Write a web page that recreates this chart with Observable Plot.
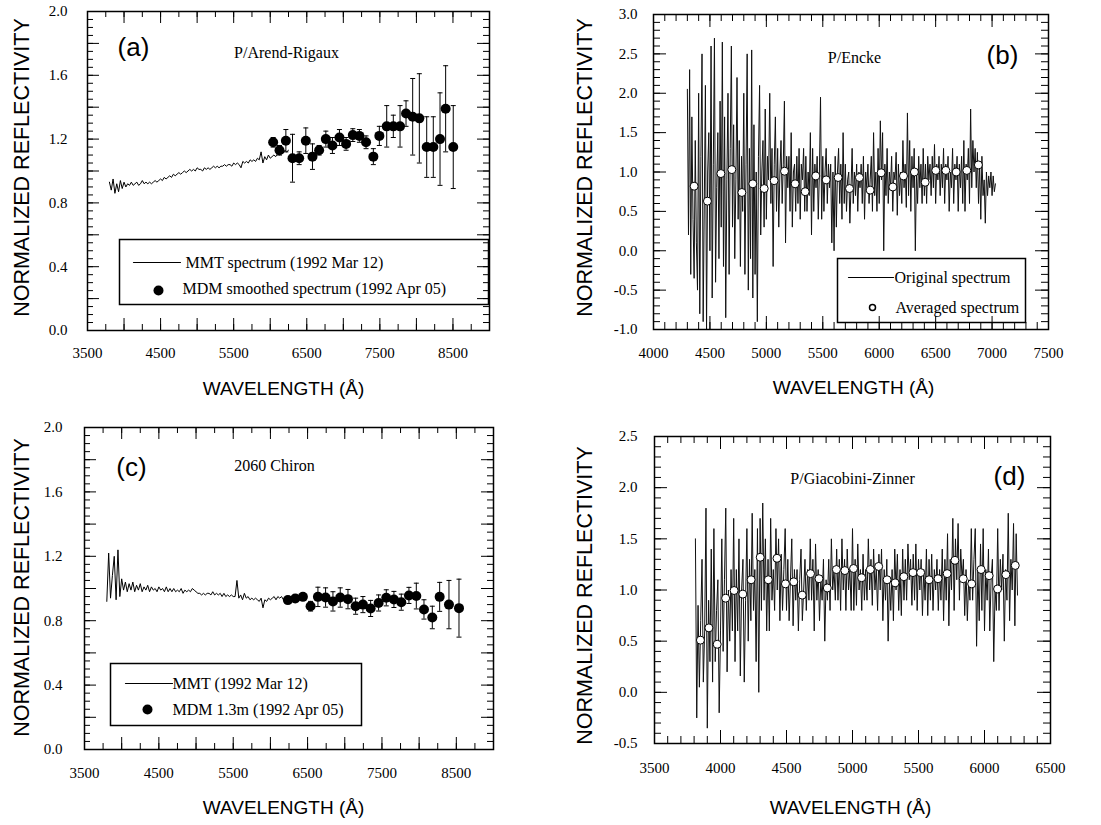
<!DOCTYPE html>
<html><head><meta charset="utf-8">
<script src="https://cdn.jsdelivr.net/npm/d3@7"></script>
<script src="https://cdn.jsdelivr.net/npm/@observablehq/plot@0.6"></script>
<style>
body{margin:0;background:#fff;}
#root{position:relative;width:1101px;height:825px;overflow:hidden;background:#fff;}
.panel{position:absolute;}
.panel svg{max-width:none !important;}
</style></head><body><div id="root"></div>
<script>
const SERIF = '"Liberation Serif","Times New Roman",serif';
const SANS = '"Liberation Sans",Arial,sans-serif';

// ---------- Panel (a) P/Arend-Rigaux ----------
const aMmtStart = 3800, aMmtStep = 25;
const aMmtValues = [
  0.93,0.88,0.95,0.86,0.92,0.87,0.94,0.89,0.93,0.90,
  0.92,0.91,0.93,0.91,0.92,0.93,0.91,0.92,0.94,0.92,
  0.93,0.92,0.93,0.92,0.93,0.94,0.93,0.94,0.95,0.94,
  0.96,0.95,0.96,0.97,0.96,0.98,0.97,0.98,0.99,0.98,
  0.99,1.00,0.99,1.00,1.01,1.00,1.01,1.00,1.02,1.01,
  1.01,1.00,1.02,1.01,1.02,1.01,1.02,1.03,1.02,1.03,
  1.02,1.03,1.03,1.04,1.03,1.04,1.04,1.03,1.05,1.04,
  1.05,1.04,1.02,1.06,1.05,1.06,1.05,1.07,1.06,1.07,
  1.06,1.08,1.07,1.12,1.05,1.09,1.07,1.10,1.08,1.09,
  1.10,1.09,1.11,1.10,1.12,1.11,1.13,1.12,1.13
];
const aMdmLambda = [6040,6127,6214,6305,6396,6487,6578,6669,6761,6851,6947,7038,7130,7220,7311,7411,7493,7594,7684,7776,7858,7949,8040,8141,8231,8323,8400,8504];
const aMdmValues = [1.18,1.13,1.19,1.08,1.08,1.19,1.09,1.13,1.20,1.16,1.21,1.17,1.225,1.22,1.18,1.09,1.22,1.28,1.28,1.28,1.36,1.34,1.33,1.15,1.15,1.20,1.39,1.15];
const aMdmErrors = [0.03,0.03,0.07,0.15,0.04,0.08,0.08,0.03,0.05,0.05,0.05,0.04,0.04,0.04,0.04,0.05,0.06,0.13,0.07,0.13,0.08,0.24,0.28,0.19,0.19,0.29,0.27,0.26];

// ---------- Panel (b) P/Encke ----------
const bSpecStart = 4300, bSpecStep = 10;
const bSpecValues = [
  2.05,0.2,2.3,-0.3,1.7,0.4,-0.35,1.4,0.1,-0.5,
  2.0,-0.8,1.2,2.5,-0.9,0.6,2.1,-1.0,1.0,1.5,
  0.0,2.6,-0.6,1.1,2.7,-0.4,0.8,1.5,-0.1,1.9,
  0.3,2.65,-0.2,1.7,-0.85,0.9,2.0,-0.3,1.3,2.6,
  0.3,1.6,-0.1,0.9,2.2,0.4,1.4,-0.2,1.2,0.5,
  2.0,-0.3,1.1,2.5,-0.5,1.3,-0.1,2.55,-0.6,1.6,
  -0.3,1.0,-0.9,1.2,2.1,0.2,1.0,1.4,0.3,1.8,
  0.4,1.2,0.9,2.0,0.6,1.3,-0.2,1.1,1.7,0.5,
  1.3,0.3,1.0,1.4,0.6,1.1,1.9,0.1,1.2,0.8,
  1.2,0.5,1.5,0.3,1.0,1.1,0.5,1.2,0.6,1.3,
  0.4,1.1,0.9,1.3,0.5,1.2,0.5,1.0,0.7,1.5,
  0.2,1.3,0.5,1.1,0.8,1.2,0.4,1.0,1.95,0.4,
  1.2,0.5,1.0,1.3,0.6,1.1,0.8,1.1,0.1,1.0,
  0.0,1.2,0.3,1.0,1.3,0.6,1.1,0.4,1.5,0.6,
  1.1,0.5,0.9,1.0,0.35,0.8,1.3,0.6,1.0,0.7,
  1.1,0.5,1.0,0.8,1.1,0.6,1.2,0.4,1.0,0.8,
  1.1,0.6,0.9,1.2,0.5,1.5,0.7,1.0,0.5,1.3,
  0.6,1.65,0.9,1.5,0.0,1.1,0.7,1.3,0.6,1.0,
  0.8,1.2,0.5,1.0,0.9,1.25,0.45,1.1,0.7,1.0,
  0.6,1.4,0.8,1.1,0.55,1.75,0.7,1.4,0.5,1.2,
  0.8,1.3,0.0,1.0,0.6,1.2,0.8,1.1,0.6,1.3,
  0.7,1.1,0.6,1.2,0.9,1.1,0.7,1.2,0.8,1.35,
  0.6,1.1,0.9,1.2,0.7,1.1,0.8,1.3,0.6,1.1,
  0.9,1.2,0.5,1.0,0.8,1.3,0.6,1.1,0.9,1.2,
  0.5,1.1,0.8,1.2,0.6,1.4,0.5,1.1,0.9,1.3,
  0.6,1.8,0.8,1.4,1.0,1.3,0.8,1.25,0.6,1.1,
  0.4,1.2,0.7,0.9,0.35,1.0,0.7,0.95,0.8,1.0,
  0.7,0.95,0.75,0.85
];
const bAvgLambda = [4360,4478,4597,4694,4783,4880,4981,5069,5161,5255,5344,5438,5530,5636,5737,5825,5920,6017,6121,6215,6312,6407,6501,6590,6682,6776,6879];
const bAvgValues = [0.82,0.63,0.98,1.03,0.74,0.85,0.79,0.89,1.01,0.85,0.75,0.95,0.90,0.93,0.79,0.93,0.77,0.99,0.81,0.95,1.00,0.87,1.02,1.02,1.00,1.02,1.09];

// ---------- Panel (c) 2060 Chiron ----------
const cMmtStart = 3800, cMmtStep = 25;
const cMmtValues = [
  0.92,1.22,0.94,1.08,1.20,0.93,1.24,0.95,1.06,0.99,
  1.04,0.98,1.03,0.99,1.04,0.98,1.02,0.99,1.03,0.98,
  1.01,0.99,1.02,0.98,1.01,0.99,1.00,0.98,1.01,0.99,
  1.00,0.98,1.01,0.98,1.00,0.98,1.00,0.98,0.99,0.98,
  1.00,0.97,0.99,0.98,0.99,0.98,1.00,0.99,0.98,0.97,
  0.97,0.96,0.97,0.96,0.97,0.97,0.96,0.98,0.96,0.97,
  0.96,0.97,0.95,0.97,0.95,0.96,0.95,0.96,0.95,0.95,
  1.05,0.94,0.96,0.93,0.97,0.94,0.95,0.93,0.94,0.93,
  0.94,0.93,0.92,0.94,0.88,0.93,0.92,0.94,0.93,0.94,
  0.95,0.93,0.95,0.94,0.95,0.93,0.95,0.94,0.94
];
const cMdmLambda = [6235,6334,6437,6540,6639,6742,6841,6939,7043,7146,7244,7348,7455,7558,7661,7760,7863,7962,8065,8177,8276,8401,8536];
const cMdmValues = [0.928,0.938,0.948,0.89,0.948,0.944,0.92,0.944,0.934,0.89,0.90,0.876,0.91,0.942,0.932,0.915,0.957,0.953,0.87,0.82,0.948,0.90,0.878];
const cMdmErrors = [0.02,0.02,0.02,0.03,0.06,0.06,0.06,0.06,0.06,0.05,0.05,0.05,0.05,0.05,0.05,0.05,0.05,0.08,0.06,0.07,0.09,0.15,0.18];

// ---------- Panel (d) P/Giacobini-Zinner ----------
const dSpecStart = 3810, dSpecStep = 10;
const dSpecValues = [
  1.5,-0.25,0.85,0.05,0.7,1.3,0.1,0.6,1.8,-0.35,
  0.9,0.3,1.4,0.1,1.6,0.3,0.8,1.1,-0.2,0.6,
  1.5,0.4,1.1,1.8,0.2,1.0,0.5,1.2,0.6,1.7,
  0.3,1.2,0.6,1.5,0.16,1.0,1.3,0.1,0.9,1.6,
  0.5,1.3,0.7,1.75,0.8,1.2,0.3,1.6,0.0,1.7,
  0.8,1.85,0.9,1.5,0.6,1.3,0.6,1.7,0.9,1.2,
  0.8,1.6,1.0,1.5,0.7,1.35,0.8,1.2,1.6,0.8,
  1.3,0.7,1.1,1.5,0.65,1.2,0.9,1.2,0.6,1.1,
  1.4,0.7,1.0,1.3,0.8,1.2,0.9,1.5,0.9,1.3,
  0.6,1.45,0.9,1.2,0.7,1.1,0.9,1.3,0.5,1.1,
  0.9,1.3,0.8,1.5,1.0,1.2,0.9,1.4,0.9,1.3,
  0.8,1.5,1.0,1.3,0.8,1.4,1.0,1.2,0.8,1.6,
  0.8,1.3,0.85,1.45,1.0,1.2,0.8,1.35,0.9,1.2,
  0.9,1.5,1.0,1.3,0.85,1.4,1.0,1.2,0.8,1.35,
  1.0,1.4,0.7,1.2,0.9,1.3,0.5,1.1,0.8,1.2,
  0.7,1.4,1.0,1.35,0.8,1.2,0.75,1.4,0.9,1.3,
  0.9,1.45,1.1,1.3,0.85,1.35,0.9,1.45,0.8,1.3,
  1.0,1.3,0.75,1.2,0.9,1.4,0.75,1.3,0.9,1.35,
  0.8,1.2,1.0,1.3,0.8,1.2,0.9,1.4,0.7,1.3,
  0.9,1.55,0.65,1.3,1.0,1.7,0.8,1.5,1.1,1.65,
  0.9,1.4,1.1,1.3,0.75,1.2,0.7,1.1,0.9,1.6,
  0.9,1.3,1.6,0.45,1.2,0.7,1.45,0.8,1.6,0.6,
  1.2,0.9,1.4,0.6,1.1,1.3,0.3,1.0,0.8,1.6,
  0.8,1.3,1.0,1.35,0.5,1.2,0.9,1.75,0.7,1.3,
  1.0,1.65,0.65,1.55,0.95
];
const dAvgLambda = [3848,3912,3975,4039,4103,4169,4232,4301,4362,4428,4492,4555,4619,4682,4746,4809,4878,4942,5008,5069,5135,5198,5262,5323,5389,5458,5516,5580,5648,5717,5776,5839,5903,5974,6035,6099,6162,6233];
const dAvgValues = [0.51,0.63,0.47,0.92,0.995,0.96,1.10,1.32,1.10,1.31,1.06,1.08,0.95,1.16,1.11,1.02,1.20,1.19,1.21,1.12,1.20,1.23,1.10,1.07,1.13,1.17,1.17,1.10,1.11,1.16,1.29,1.11,1.06,1.20,1.14,1.01,1.15,1.24];

// ---------- shared text ----------
const xTitle = "WAVELENGTH (Å)";
const yTitle = "NORMALIZED REFLECTIVITY";

// ---------- helpers ----------
const spectrum = (start, step, values) => values.map((v, i) => ({lam: start + i * step, v}));
const points = (lams, vals, errs) => lams.map((lam, i) => ({lam, v: vals[i], e: errs ? errs[i] : 0}));
const lineShape = {draw(ctx, l) { ctx.moveTo(0, 0); ctx.lineTo(0, -l); }};
const capSymbol = {draw(ctx, size) { const w = Math.sqrt(size / Math.PI); ctx.moveTo(-w, 0); ctx.lineTo(w, 0); }};

// inward ticks on all four sides, drawn as short rules (same pattern as the error bars);
// pixel lengths are converted to data units through the frame size
function frameTicks(fw, fh, xDom, yDom, xMajor, xMinor, yMajor, yMinor, big, small) {
  const [x0, x1] = xDom, [y0, y1] = yDom;
  const kx = (x1 - x0) / fw, ky = (y1 - y0) / fh;
  const out = [];
  for (const [t, L] of [[xMinor, small], [xMajor, big]]) {
    const bottom = t.map(v => ({v, a: y0, b: y0 + L * ky}));
    const top = t.map(v => ({v, a: y1 - L * ky, b: y1}));
    out.push(Plot.ruleX(bottom, {x: "v", y1: "a", y2: "b", stroke: "black", strokeWidth: 1}));
    out.push(Plot.ruleX(top, {x: "v", y1: "a", y2: "b", stroke: "black", strokeWidth: 1}));
  }
  for (const [t, L] of [[yMinor, small], [yMajor, big]]) {
    const left = t.map(v => ({v, a: x0, b: x0 + L * kx}));
    const right = t.map(v => ({v, a: x1 - L * kx, b: x1}));
    out.push(Plot.ruleY(left, {y: "v", x1: "a", x2: "b", stroke: "black", strokeWidth: 1}));
    out.push(Plot.ruleY(right, {y: "v", x1: "a", x2: "b", stroke: "black", strokeWidth: 1}));
  }
  return out;
}
function tickLabels(xVals, yVals, xPad, yPad) {
  return [
    Plot.axisX(xVals, {anchor: "bottom", tickSize: 0, tickPadding: xPad, label: null, fontSize: 15, fontFamily: SERIF, fill: "black", tickFormat: d => String(d)}),
    Plot.axisY(yVals, {anchor: "left", tickSize: 0, tickPadding: yPad, label: null, fontSize: 15, fontFamily: SERIF, fill: "black", tickFormat: d => d.toFixed(1)})
  ];
}
const note = (text, dx, dy, opts = {}) => Plot.text([text], {frameAnchor: "top-left", dx, dy, fill: "black", lineAnchor: "middle", textAnchor: "start", ...opts});
function titles(xdx, xdy, ydx, ydy) {
  return [
    note(xTitle, xdx, xdy, {fontFamily: SANS, fontSize: 19, textAnchor: "middle"}),
    note(yTitle, ydx, ydy, {fontFamily: SANS, fontSize: 21.5, textAnchor: "middle", rotate: -90})
  ];
}
function errorMarks(data) {
  return [
    Plot.ruleX(data, {x: "lam", y1: d => d.v - d.e, y2: d => d.v + d.e, stroke: "black", strokeWidth: 1}),
    Plot.dot(data, {x: "lam", y: d => d.v + d.e, symbol: capSymbol, r: 2.5, stroke: "black", fill: "none", strokeWidth: 1}),
    Plot.dot(data, {x: "lam", y: d => d.v - d.e, symbol: capSymbol, r: 2.5, stroke: "black", fill: "none", strokeWidth: 1}),
    Plot.dot(data, {x: "lam", y: "v", r: 5, fill: "black", stroke: "none"})
  ];
}
function legendLine(dx, dy, len) {
  return Plot.vector([0], {frameAnchor: "top-left", dx, dy, length: len, rotate: 90, anchor: "start", shape: lineShape, stroke: "black", strokeWidth: 1.2});
}
const baseStyle = {fontFamily: SERIF, fontSize: "15px", overflow: "visible", background: "white", color: "black"};

const root = document.getElementById("root");
function place(svg, left, top, w, h) {
  const d = document.createElement("div");
  d.className = "panel";
  Object.assign(d.style, {left: left + "px", top: top + "px", width: w + "px", height: h + "px"});
  d.appendChild(svg);
  root.appendChild(d);
}

// ---------- (a) ----------
const aMmt = spectrum(aMmtStart, aMmtStep, aMmtValues);
const aMdm = points(aMdmLambda, aMdmValues, aMdmErrors);
{
  const W = 550, H = 410, ml = 87, mr = 61, mt = 11, mb = 80;
  const xDom = [3500, 9000], yDom = [0, 2];
  place(Plot.plot({
    width: W, height: H, marginLeft: ml, marginRight: mr, marginTop: mt, marginBottom: mb,
    x: {domain: xDom}, y: {domain: yDom}, style: baseStyle,
    marks: [
      ...tickLabels(d3.range(3500, 8501, 1000), [0, 0.4, 0.8, 1.2, 1.6, 2.0], 17, 20),
      Plot.line(aMmt, {x: "lam", y: "v", stroke: "black", strokeWidth: 1}),
      ...errorMarks(aMdm),
      Plot.frame({insetLeft: 32, insetRight: 1, insetTop: 228, insetBottom: 26, stroke: "black", strokeWidth: 1.5, fill: "white"}),
      legendLine(46, 251, 47),
      note("MMT spectrum (1992 Mar 12)", 98, 251, {fontSize: 16, fontFamily: SERIF}),
      Plot.dot([0], {frameAnchor: "top-left", dx: 71, dy: 279, r: 5, fill: "black"}),
      note("MDM smoothed spectrum (1992 Apr 05)", 95, 277, {fontSize: 16, fontFamily: SERIF}),
      note("(a)", 46, 36, {fontFamily: SANS, fontSize: 26, textAnchor: "middle"}),
      note("P/Arend-Rigaux", 199, 41, {fontFamily: SERIF, fontSize: 16, textAnchor: "middle"}),
      ...titles(196, 377, -65, 156),
      ...frameTicks(W - ml - mr, H - mt - mb, xDom, yDom, d3.range(4000, 9000, 500), d3.range(3750, 9000, 250), d3.range(0.2, 1.9, 0.2), d3.range(0.05, 2, 0.05), 12, 6),
      Plot.frame({stroke: "black", strokeWidth: 1.5})
    ]
  }), 0, 0, W, H);
}

// ---------- (b) ----------
const bSpec = spectrum(bSpecStart, bSpecStep, bSpecValues);
const bAvg = points(bAvgLambda, bAvgValues);
{
  const W = 551, H = 410, ml = 103, mr = 53, mt = 14, mb = 81;
  const xDom = [4000, 7500], yDom = [-1, 3];
  place(Plot.plot({
    width: W, height: H, marginLeft: ml, marginRight: mr, marginTop: mt, marginBottom: mb,
    x: {domain: xDom}, y: {domain: yDom}, style: baseStyle,
    marks: [
      ...tickLabels(d3.range(4000, 7501, 500), d3.range(-1, 3.01, 0.5), 18, 16),
      Plot.line(bSpec, {x: "lam", y: "v", stroke: "#111", strokeWidth: 1}),
      Plot.dot(bAvg, {x: "lam", y: "v", r: 4, fill: "white", stroke: "black", strokeWidth: 1}),
      Plot.frame({insetLeft: 184, insetRight: 23, insetTop: 244, insetBottom: 7, stroke: "black", strokeWidth: 1.5, fill: "white"}),
      legendLine(195, 263, 45),
      note("Original spectrum", 241, 263, {fontSize: 16, fontFamily: SERIF}),
      Plot.dot([0], {frameAnchor: "top-left", dx: 219, dy: 293, r: 3, fill: "white", stroke: "black", strokeWidth: 1.5}),
      note("Averaged spectrum", 242, 293, {fontSize: 16, fontFamily: SERIF}),
      note("(b)", 349, 41, {fontFamily: SANS, fontSize: 26, textAnchor: "middle"}),
      note("P/Encke", 201, 43, {fontFamily: SERIF, fontSize: 16, textAnchor: "middle"}),
      ...titles(200, 373, -68, 153),
      ...frameTicks(W - ml - mr, H - mt - mb, xDom, yDom, d3.range(4500, 7500, 500), d3.range(4100, 7500, 100), d3.range(-0.5, 3, 0.5), d3.range(-0.9, 3, 0.1), 13, 7),
      Plot.frame({stroke: "black", strokeWidth: 1.5})
    ]
  }), 550, 0, W, H);
}

// ---------- (c) ----------
const cMmt = spectrum(cMmtStart, cMmtStep, cMmtValues);
const cMdm = points(cMdmLambda, cMdmValues, cMdmErrors);
{
  const W = 550, H = 415, ml = 84, mr = 57, mt = 17, mb = 76;
  const xDom = [3500, 9000], yDom = [0, 2];
  place(Plot.plot({
    width: W, height: H, marginLeft: ml, marginRight: mr, marginTop: mt, marginBottom: mb,
    x: {domain: xDom}, y: {domain: yDom}, style: baseStyle,
    marks: [
      ...tickLabels(d3.range(3500, 8501, 1000), [0, 0.4, 0.8, 1.2, 1.6, 2.0], 18, 22),
      Plot.line(cMmt, {x: "lam", y: "v", stroke: "black", strokeWidth: 1}),
      ...errorMarks(cMdm),
      Plot.frame({insetLeft: 26, insetRight: 132, insetTop: 236, insetBottom: 24, stroke: "black", strokeWidth: 1.5, fill: "white"}),
      legendLine(41, 256, 47),
      note("MMT (1992 Mar 12)", 88, 256, {fontSize: 16, fontFamily: SERIF}),
      Plot.dot([0], {frameAnchor: "top-left", dx: 63, dy: 282, r: 5, fill: "black"}),
      note("MDM 1.3m (1992 Apr 05)", 88, 282, {fontSize: 16, fontFamily: SERIF}),
      note("(c)", 47, 40, {fontFamily: SANS, fontSize: 26, textAnchor: "middle"}),
      note("2060 Chiron", 190, 38, {fontFamily: SERIF, fontSize: 16, textAnchor: "middle"}),
      ...titles(199, 380, -62, 160),
      ...frameTicks(W - ml - mr, H - mt - mb, xDom, yDom, d3.range(4000, 9000, 500), d3.range(3750, 9000, 250), d3.range(0.2, 1.9, 0.2), d3.range(0.05, 2, 0.05), 12, 6),
      Plot.frame({stroke: "black", strokeWidth: 1.5})
    ]
  }), 0, 410, W, H);
}

// ---------- (d) ----------
const dSpec = spectrum(dSpecStart, dSpecStep, dSpecValues);
const dAvg = points(dAvgLambda, dAvgValues);
{
  const W = 551, H = 415, ml = 104, mr = 51, mt = 26, mb = 82;
  const xDom = [3500, 6500], yDom = [-0.5, 2.5];
  place(Plot.plot({
    width: W, height: H, marginLeft: ml, marginRight: mr, marginTop: mt, marginBottom: mb,
    x: {domain: xDom}, y: {domain: yDom}, style: baseStyle,
    marks: [
      ...tickLabels(d3.range(3500, 6501, 500), d3.range(-0.5, 2.51, 0.5), 19, 17),
      Plot.line(dSpec, {x: "lam", y: "v", stroke: "#111", strokeWidth: 1}),
      Plot.dot(dAvg, {x: "lam", y: "v", r: 4, fill: "white", stroke: "black", strokeWidth: 1}),
      note("(d)", 355, 40, {fontFamily: SANS, fontSize: 26, textAnchor: "middle"}),
      note("P/Giacobini-Zinner", 198, 42, {fontFamily: SERIF, fontSize: 16, textAnchor: "middle"}),
      ...titles(196, 371, -69, 159),
      ...frameTicks(W - ml - mr, H - mt - mb, xDom, yDom, d3.range(4000, 6500, 500), d3.range(3600, 6500, 100), d3.range(0, 2.5, 0.5), d3.range(-0.4, 2.5, 0.1), 13, 7),
      Plot.frame({stroke: "black", strokeWidth: 1.5})
    ]
  }), 550, 410, W, H);
}
</script>
</body></html>
